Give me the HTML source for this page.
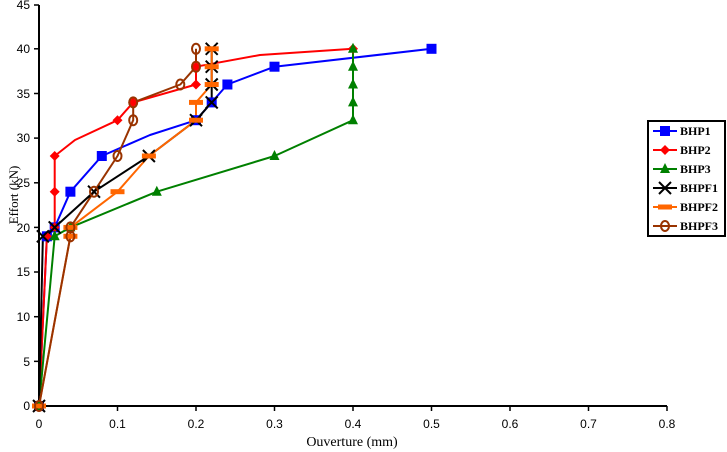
<!DOCTYPE html>
<html><head><style>body{margin:0;background:#fff}svg{display:block}</style></head><body>
<svg width="727" height="452" xmlns="http://www.w3.org/2000/svg" font-family="Liberation Sans, sans-serif">
<g stroke="#000" stroke-width="2" fill="none">
<line x1="39" y1="5" x2="39" y2="407"/>
<line x1="38" y1="406" x2="667" y2="406"/>
</g>
<g stroke="#000" stroke-width="1.5">
<line x1="34" y1="406" x2="39" y2="406"/><line x1="34" y1="361.35" x2="39" y2="361.35"/><line x1="34" y1="316.7" x2="39" y2="316.7"/><line x1="34" y1="272" x2="39" y2="272"/><line x1="34" y1="227.4" x2="39" y2="227.4"/><line x1="34" y1="182.8" x2="39" y2="182.8"/><line x1="34" y1="138.1" x2="39" y2="138.1"/><line x1="34" y1="93.5" x2="39" y2="93.5"/><line x1="34" y1="48.8" x2="39" y2="48.8"/><line x1="34" y1="5" x2="39" y2="5"/>
<line x1="39" y1="406" x2="39" y2="411"/><line x1="117.5" y1="406" x2="117.5" y2="411"/><line x1="196" y1="406" x2="196" y2="411"/><line x1="274.5" y1="406" x2="274.5" y2="411"/><line x1="353" y1="406" x2="353" y2="411"/><line x1="431.5" y1="406" x2="431.5" y2="411"/><line x1="510" y1="406" x2="510" y2="411"/><line x1="588.5" y1="406" x2="588.5" y2="411"/><line x1="667" y1="406" x2="667" y2="411"/>
</g>
<g font-size="12" fill="#000" text-anchor="end">
<text x="30" y="410">0</text><text x="30" y="366">5</text><text x="30" y="321">10</text><text x="30" y="276">15</text><text x="30" y="232">20</text><text x="30" y="187">25</text><text x="30" y="142">30</text><text x="30" y="98">35</text><text x="30" y="53">40</text><text x="30" y="9">45</text>
</g>
<g font-size="12" fill="#000" text-anchor="middle">
<text x="39" y="428">0</text><text x="117.5" y="428">0.1</text><text x="196" y="428">0.2</text><text x="274.5" y="428">0.3</text><text x="353" y="428">0.4</text><text x="431.5" y="428">0.5</text><text x="510" y="428">0.6</text><text x="588.5" y="428">0.7</text><text x="667" y="428">0.8</text>
<text x="352" y="446" font-size="14" font-family="Liberation Serif, serif">Ouverture (mm)</text>
<text transform="translate(18,195) rotate(-90)" font-size="13" font-family="Liberation Serif, serif">Effort (kN)</text>
</g>
<g fill="none" stroke-width="2" stroke-linejoin="round">
<polyline stroke="#0000ff" points="39,406 46.9,236.3 54.7,227.4 70.4,191.7 101.8,156 150,135 196,120.2 211.7,102.4 227.4,84.5 274.5,66.7 431.5,48.8"/>
<polyline stroke="#ff0000" points="39,406 46.9,236.3 54.7,227.4 54.7,191.7 54.7,156 75,140 117.5,120.2 133.2,102.4 196,84.5 196,66.7 260,55 353,48.8"/>
<polyline stroke="#008000" points="39,406 54.7,236.3 70.4,227.4 156.8,191.7 274.5,156 353,120.2 353,102.4 353,84.5 353,66.7 353,48.8"/>
<polyline stroke="#000000" points="39,406 42.9,236.3 54.7,227.4 94,191.7 148.9,156 196,120.2 211.7,102.4 211.7,84.5 211.7,66.7 211.7,48.8"/>
<polyline stroke="#ff6600" points="39,406 70.4,236.3 70.4,227.4 117.5,191.7 148.9,156 196,120.2 196,102.4 211.7,84.5 211.7,66.7 211.7,48.8"/>
<polyline stroke="#993300" points="39,406 70.4,236.3 70.4,227.4 94,191.7 117.5,156 133.2,120.2 133.2,102.4 180.3,84.5 196,66.7 196,48.8"/>
</g>
<defs>
<rect id="sq" x="-5" y="-5" width="10" height="10" fill="#0000ff"/>
<path id="dm" d="M0,-5 L5,0 L0,5 L-5,0Z" fill="#ff0000"/>
<path id="tr" d="M0,-6 L5,4 L-5,4Z" fill="#008000"/>
<path id="xx" d="M-6,-6 L6,6 M-6,6 L6,-6" stroke="#000" stroke-width="2"/>
<rect id="ds" x="-7" y="-2.5" width="14" height="5" fill="#ff6600"/>
<ellipse id="ci" cx="0" cy="0" rx="4" ry="5" fill="none" stroke="#993300" stroke-width="2"/>
</defs>
<g>
<use href="#sq" x="39" y="406"/><use href="#sq" x="46.9" y="236.3"/><use href="#sq" x="54.7" y="227.4"/><use href="#sq" x="70.4" y="191.7"/><use href="#sq" x="101.8" y="156"/><use href="#sq" x="196" y="120.2"/><use href="#sq" x="211.7" y="102.4"/><use href="#sq" x="227.4" y="84.5"/><use href="#sq" x="274.5" y="66.7"/><use href="#sq" x="431.5" y="48.8"/>
<use href="#dm" x="39" y="406"/><use href="#dm" x="46.9" y="236.3"/><use href="#dm" x="54.7" y="227.4"/><use href="#dm" x="54.7" y="191.7"/><use href="#dm" x="54.7" y="156"/><use href="#dm" x="117.5" y="120.2"/><use href="#dm" x="133.2" y="102.4"/><use href="#dm" x="196" y="84.5"/><use href="#dm" x="196" y="66.7"/><use href="#dm" x="353" y="48.8"/>
<use href="#tr" x="39" y="406"/><use href="#tr" x="54.7" y="236.3"/><use href="#tr" x="70.4" y="227.4"/><use href="#tr" x="156.8" y="191.7"/><use href="#tr" x="274.5" y="156"/><use href="#tr" x="353" y="120.2"/><use href="#tr" x="353" y="102.4"/><use href="#tr" x="353" y="84.5"/><use href="#tr" x="353" y="66.7"/><use href="#tr" x="353" y="48.8"/>
<use href="#xx" x="39" y="406"/><use href="#xx" x="42.9" y="236.3"/><use href="#xx" x="54.7" y="227.4"/><use href="#xx" x="94" y="191.7"/><use href="#xx" x="148.9" y="156"/><use href="#xx" x="196" y="120.2"/><use href="#xx" x="211.7" y="102.4"/><use href="#xx" x="211.7" y="84.5"/><use href="#xx" x="211.7" y="66.7"/><use href="#xx" x="211.7" y="48.8"/>
<use href="#ds" x="39" y="406"/><use href="#ds" x="70.4" y="236.3"/><use href="#ds" x="70.4" y="227.4"/><use href="#ds" x="117.5" y="191.7"/><use href="#ds" x="148.9" y="156"/><use href="#ds" x="196" y="120.2"/><use href="#ds" x="196" y="102.4"/><use href="#ds" x="211.7" y="84.5"/><use href="#ds" x="211.7" y="66.7"/><use href="#ds" x="211.7" y="48.8"/>
<use href="#ci" x="39" y="406"/><use href="#ci" x="70.4" y="236.3"/><use href="#ci" x="70.4" y="227.4"/><use href="#ci" x="94" y="191.7"/><use href="#ci" x="117.5" y="156"/><use href="#ci" x="133.2" y="120.2"/><use href="#ci" x="133.2" y="102.4"/><use href="#ci" x="180.3" y="84.5"/><use href="#ci" x="196" y="66.7"/><use href="#ci" x="196" y="48.8"/>
</g>
<rect x="648" y="121" width="77" height="115" fill="#fff" stroke="#000" stroke-width="2"/>
<g stroke-width="2">
<line x1="653" y1="131" x2="677" y2="131" stroke="#0000ff"/><use href="#sq" x="665" y="131"/>
<line x1="653" y1="150" x2="677" y2="150" stroke="#ff0000"/><use href="#dm" x="665" y="150"/>
<line x1="653" y1="169" x2="677" y2="169" stroke="#008000"/><use href="#tr" x="665" y="169"/>
<line x1="653" y1="188" x2="677" y2="188" stroke="#000"/><use href="#xx" x="665" y="188"/>
<line x1="653" y1="207" x2="677" y2="207" stroke="#ff6600"/><use href="#ds" x="665" y="207"/>
<line x1="653" y1="226" x2="677" y2="226" stroke="#993300"/><use href="#ci" x="665" y="226"/>
</g>
<g font-family="Liberation Serif, serif" font-weight="bold" font-size="12" fill="#000">
<text x="680" y="135">BHP1</text><text x="680" y="154">BHP2</text><text x="680" y="173">BHP3</text><text x="680" y="192">BHPF1</text><text x="680" y="211">BHPF2</text><text x="680" y="230">BHPF3</text>
</g>
</svg>
</body></html>
